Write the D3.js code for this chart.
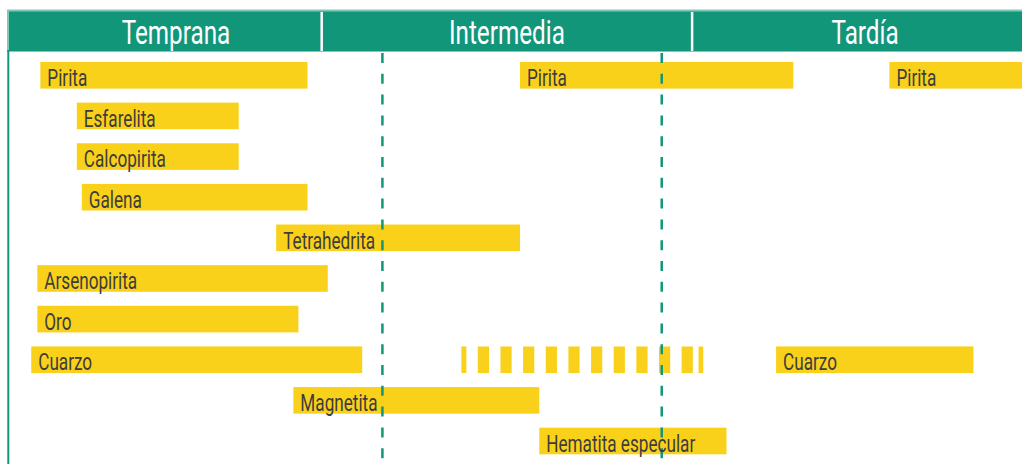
<!DOCTYPE html>
<html>
<head>
<meta charset="utf-8">
<script src="https://cdn.jsdelivr.net/npm/d3@7/dist/d3.min.js"></script>
<style>
  html, body { margin: 0; padding: 0; background: #ffffff; }
  svg { display: block; }
</style>
</head>
<body>
<svg id="chart" width="1022" height="464"></svg>
<script>
// ---- Data (relative time, 0–100) ----
const minerals = ["Pirita", "Esfarelita", "Calcopirita", "Galena", "Tetrahedrita",
                  "Arsenopirita", "Oro", "Cuarzo", "Magnetita", "Hematita especular"];

const stages = ["Temprana", "Intermedia", "Tardía"];
const stageStart = [0, 30.8, 67.4];
const stageEnd = [30.8, 67.4, 100];
const stageLabelPos = [16.4, 49.1, 84.5];

const boundaryLines = [36.8, 64.4];

// segments: mineral, start, end, style
const segMineral = ["Pirita", "Pirita", "Pirita", "Esfarelita", "Calcopirita", "Galena",
                    "Tetrahedrita", "Arsenopirita", "Oro", "Cuarzo", "Cuarzo", "Cuarzo",
                    "Magnetita", "Hematita especular"];
const segStart = [3.0, 50.4, 86.9, 6.6, 6.6, 7.1, 26.3, 2.7, 2.7, 2.1, 44.6, 75.7, 28.0, 52.3];
const segEnd   = [29.4, 77.4, 100.5, 22.6, 22.6, 29.4, 50.4, 31.4, 28.5, 34.8, 68.5, 95.2, 52.3, 70.8];
const segStyle = ["solid", "solid", "solid", "solid", "solid", "solid", "solid", "solid",
                  "solid", "solid", "dashed", "solid", "solid", "solid"];

// ---- Setup ----
const W = 1022, H = 464;
const green = "#12967a";
const yellow = "#f9d11b";
const textColor = "#3d3d3d";
const FONT = "Roboto, 'Liberation Sans', Arial, sans-serif";
const svg = d3.select("#chart");

const x = d3.scaleLinear().domain([0, 100]).range([10, 1022]);
const y = d3.scaleBand().domain(minerals).range([62, 454.3]).paddingInner(0.345).paddingOuter(0);

const segments = segMineral.map((m, i) => ({
  mineral: m, start: segStart[i], end: segEnd[i], style: segStyle[i]
}));

// horizontal compression factor so a sample word gets the condensed width
function condense(sample, size, weight, target) {
  const t = svg.append("text").attr("font-family", FONT).attr("font-size", size)
    .attr("font-weight", weight).text(sample);
  const w = t.node().getComputedTextLength();
  t.remove();
  return w > 0 ? target / w : 0.75;
}
const labelSx = condense("Tetrahedrita", 24, 400, 92);
const headSx = condense("Intermedia", 34, 400, 116);

// ---- Header band ----
const header = svg.append("g");
header.append("rect")
  .attr("x", 7).attr("y", 9.5).attr("width", W).attr("height", 42.5)
  .attr("fill", "#7fc9b6");
header.append("rect")
  .attr("x", 9).attr("y", 11.5).attr("width", W).attr("height", 39.5)
  .attr("fill", green);

header.selectAll("line.div")
  .data(stageStart.slice(1))
  .join("line")
  .attr("x1", d => x(d)).attr("x2", d => x(d))
  .attr("y1", 12).attr("y2", 51)
  .attr("stroke", "#ffffff").attr("stroke-width", 2.5);

header.selectAll("text.stage")
  .data(stages)
  .join("text")
  .attr("transform", (d, i) => `translate(${x(stageLabelPos[i])},44) scale(${headSx},1)`)
  .attr("text-anchor", "middle")
  .attr("font-family", FONT)
  .attr("font-weight", 400)
  .attr("font-size", 34)
  .attr("fill", "#ffffff")
  .text(d => d);

// left vertical line
svg.append("line")
  .attr("x1", 8.3).attr("x2", 8.3)
  .attr("y1", 50).attr("y2", H)
  .attr("stroke", green).attr("stroke-width", 2);

// ---- Bars ----
const bars = svg.append("g");
bars.selectAll("rect.bar")
  .data(segments.filter(d => d.style === "solid"))
  .join("rect")
  .attr("x", d => x(d.start))
  .attr("y", d => y(d.mineral))
  .attr("width", d => x(d.end) - x(d.start))
  .attr("height", y.bandwidth())
  .attr("fill", yellow);

bars.selectAll("line.dashed")
  .data(segments.filter(d => d.style === "dashed"))
  .join("line")
  .attr("x1", d => x(d.start))
  .attr("x2", d => x(d.end))
  .attr("y1", d => y(d.mineral) + y.bandwidth() / 2)
  .attr("y2", d => y(d.mineral) + y.bandwidth() / 2)
  .attr("stroke", yellow)
  .attr("stroke-width", y.bandwidth())
  .attr("stroke-dasharray", "11.2 11.45 11.2 11.45 11.2 11.45 11.2 11.45 11.2 11.45 11.2 11.45 11.2 11.45 11.2 11.45 11.2 11.45 11.2 11.45 11.2 5.7 20")
  .attr("stroke-dashoffset", 6.2);

// ---- Dashed stage boundary lines ----
svg.selectAll("line.boundary")
  .data(boundaryLines)
  .join("line")
  .attr("x1", d => x(d)).attr("x2", d => x(d))
  .attr("y1", 53).attr("y2", H)
  .attr("stroke", green)
  .attr("stroke-width", 2.5)
  .attr("stroke-dasharray", "10 10.8");

// ---- Labels ----
svg.selectAll("text.label")
  .data(segments.filter(d => d.style === "solid"))
  .join("text")
  .attr("transform", d => `translate(${x(d.start) + 7},${y(d.mineral) + 24}) scale(${labelSx},1)`)
  .attr("font-family", FONT)
  .attr("font-weight", 400)
  .attr("font-size", 24)
  .attr("fill", textColor)
  .text(d => d.mineral);
</script>
</body>
</html>
